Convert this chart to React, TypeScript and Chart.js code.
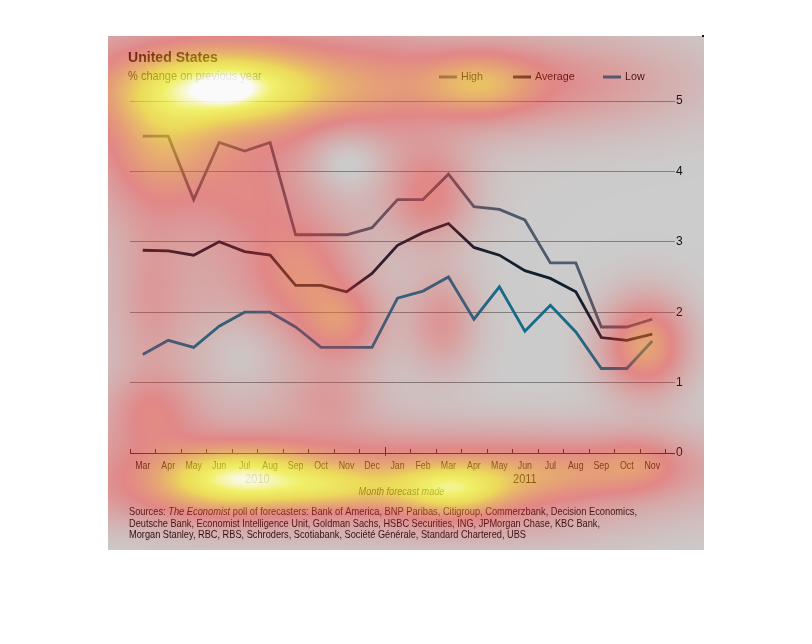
import React, { useEffect, useRef } from "react";
import { Chart, registerables } from "chart.js";

Chart.register(...registerables);

// ---------- data ----------
const months = ["Mar", "Apr", "May", "Jun", "Jul", "Aug", "Sep", "Oct", "Nov", "Dec", "Jan", "Feb", "Mar", "Apr", "May", "Jun", "Jul", "Aug", "Sep", "Oct", "Nov"];
const yearLabels = ["2010", "2011"];
const yearStart = [0, 10];
const yearEnd = [9, 20];
const high = [4.5, 4.5, 3.6, 4.41, 4.29, 4.41, 3.1, 3.1, 3.1, 3.2, 3.6, 3.6, 3.96, 3.5, 3.46, 3.31, 2.7, 2.7, 1.79, 1.79, 1.9];
const average = [2.88, 2.87, 2.81, 3.0, 2.86, 2.81, 2.38, 2.38, 2.29, 2.55, 2.95, 3.13, 3.26, 2.92, 2.81, 2.59, 2.48, 2.29, 1.64, 1.6, 1.69];
const low = [1.4, 1.6, 1.5, 1.8, 2.0, 2.0, 1.79, 1.5, 1.5, 1.5, 2.2, 2.3, 2.5, 1.9, 2.36, 1.73, 2.1, 1.72, 1.2, 1.2, 1.59];
const yMin = 0;
const yMax = 5;
const seriesNames = ["High", "Average", "Low"];
const title = "United States";
const subtitle = "% change on previous year";
const axisTitle = "Month forecast made";
const sourceLines = [
  ["Sources: ", "The Economist", " poll of forecasters: Bank of America, BNP Paribas, Citigroup, Commerzbank, Decision Economics,"],
  ["Deutsche Bank, Economist Intelligence Unit, Goldman Sachs, HSBC Securities, ING, JPMorgan Chase, KBC Bank,"],
  ["Morgan Stanley, RBC, RBS, Schroders, Scotiabank, Société Générale, Standard Chartered, UBS"],
];

// ---------- styles ----------
const W = 812;
const H = 644;
const FONT = "'Liberation Sans', Arial, sans-serif";
const colHigh = "#5f7286";
const colAvg = "#16283a";
const colLow = "#1a86ad";
const textCol = "#121212";

// heat blobs: x, y, sx, sy, weight
const blobs: number[][] = [
  [228, 86, 80, 27, 0.6],
  [228, 88, 18, 12, 0.1],
  [230, 92, 130, 62, 0.33],
  [476, 84, 42, 24, 0.36],
  [550, 82, 100, 34, 0.28],
  [380, 85, 40, 40, 0.12],
  [160, 150, 40, 45, 0.3],
  [230, 280, 100, 120, 0.18],
  [250, 200, 30, 30, 0.12],
  [300, 270, 35, 40, 0.28],
  [342, 322, 28, 28, 0.32],
  [345, 158, 28, 24, -0.2],
  [240, 350, 30, 30, -0.12],
  [150, 300, 22, 55, 0.12],
  [430, 195, 30, 34, 0.32],
  [442, 322, 24, 34, 0.25],
  [645, 345, 30, 34, 0.52],
  [150, 412, 32, 26, 0.25],
  [330, 398, 32, 22, 0.15],
  [235, 478, 55, 21, 0.55],
  [450, 490, 44, 19, 0.55],
  [335, 488, 45, 16, 0.3],
  [390, 470, 250, 30, 0.38],
  [560, 475, 60, 22, 0.2],
  [640, 462, 30, 20, 0.18],
  [200, 505, 90, 20, 0.15],
  [480, 525, 120, 20, 0.1],
];
const stops: number[][] = [
  [0, 255, 0, 0, 0],
  [0.15, 255, 30, 30, 0.18],
  [0.35, 255, 40, 40, 0.42],
  [0.55, 255, 140, 30, 0.52],
  [0.72, 255, 225, 20, 0.62],
  [0.88, 255, 255, 60, 0.7],
  [1.0, 255, 255, 255, 0.9],
];

function ramp(h: number): number[] {
  if (h <= 0) return [0, 0, 0, 0];
  for (let i = 1; i < stops.length; i++) {
    if (h <= stops[i][0]) {
      const a = stops[i - 1], b = stops[i];
      const t = (h - a[0]) / (b[0] - a[0]);
      return [a[1] + (b[1] - a[1]) * t, a[2] + (b[2] - a[2]) * t, a[3] + (b[3] - a[3]) * t, a[4] + (b[4] - a[4]) * t];
    }
  }
  const l = stops[stops.length - 1];
  return [l[1], l[2], l[3], l[4]];
}

function drawText(ctx: CanvasRenderingContext2D, text: string, x: number, y: number, font: string, color: string, sx = 1, align = "left") {
  ctx.save();
  ctx.font = font;
  ctx.fillStyle = color;
  ctx.textBaseline = "middle";
  ctx.textAlign = "left";
  const w = ctx.measureText(text).width * sx;
  const x0 = align === "center" ? x - w / 2 : align === "right" ? x - w : x;
  ctx.translate(x0, y);
  ctx.scale(sx, 1);
  ctx.fillText(text, 0, 0);
  ctx.restore();
}

const overlayPlugin = {
  id: "overlay",
  beforeDraw(chart: any) {
    const ctx = chart.ctx as CanvasRenderingContext2D;
    ctx.save();
    ctx.fillStyle = "#ffffff";
    ctx.fillRect(0, 0, W, H);
    ctx.restore();
  },
  afterDraw(chart: any) {
    const ctx = chart.ctx as CanvasRenderingContext2D;
    const xs = chart.scales.x;
    const ys = chart.scales.y;
    const area = chart.chartArea;

    // title
    drawText(ctx, title, 128, 58, `bold 14.5px ${FONT}`, "#0a0a0a", 0.97);
    drawText(ctx, subtitle, 128, 77, `12px ${FONT}`, textCol, 0.92);

    // legend
    const legX = [439, 513, 603];
    const legCols = [colHigh, colAvg, colLow];
    seriesNames.forEach((n, i) => {
      ctx.save();
      ctx.strokeStyle = legCols[i];
      ctx.lineWidth = 3;
      ctx.beginPath();
      ctx.moveTo(legX[i], 77);
      ctx.lineTo(legX[i] + 18, 77);
      ctx.stroke();
      ctx.restore();
      drawText(ctx, n, legX[i] + 22, 77, `11.5px ${FONT}`, textCol, 0.93);
    });

    // x tick marks
    const base = ys.getPixelForValue(0);
    const step = xs.getPixelForValue(1) - xs.getPixelForValue(0);
    const x0 = xs.getPixelForValue(0) - step / 2;
    ctx.save();
    ctx.strokeStyle = "#333";
    ctx.lineWidth = 1;
    for (let k = 0; k <= months.length; k++) {
      const bx = Math.round(x0 + k * step) + 0.5;
      ctx.beginPath();
      if (k === yearStart[1]) {
        ctx.moveTo(bx, base - 6);
        ctx.lineTo(bx, base + 3);
      } else {
        ctx.moveTo(bx, base - 4);
        ctx.lineTo(bx, base);
      }
      ctx.stroke();
    }
    ctx.restore();

    // month labels
    months.forEach((m, i) => {
      drawText(ctx, m, xs.getPixelForValue(i), 466, `11px ${FONT}`, textCol, 0.8, "center");
    });
    yearLabels.forEach((y, i) => {
      const cx = (xs.getPixelForValue(yearStart[i]) + xs.getPixelForValue(yearEnd[i])) / 2;
      drawText(ctx, y, cx, 480, `12px ${FONT}`, textCol, 0.92, "center");
    });
    drawText(ctx, axisTitle, (area.left + area.right) / 2 + 4, 492, `italic 11px ${FONT}`, textCol, 0.83, "center");

    // sources
    const targets = [508, 471, 397];
    sourceLines.forEach((segs, li) => {
      const y = 512 + li * 11.7;
      ctx.save();
      let total = 0;
      const fonts = segs.map((s, si) => (li === 0 && si === 1 ? `italic 11px ${FONT}` : `11px ${FONT}`));
      segs.forEach((s, si) => {
        ctx.font = fonts[si];
        total += ctx.measureText(s).width;
      });
      const sx = targets[li] / total;
      let x = 129;
      segs.forEach((s, si) => {
        ctx.font = fonts[si];
        const w = ctx.measureText(s).width * sx;
        drawText(ctx, s, x, y, fonts[si], textCol, sx);
        x += w;
      });
      ctx.restore();
    });

    // heat overlay
    const rx0 = 108, ry0 = 36, rw = 596, rh = 514;
    const img = ctx.getImageData(rx0, ry0, rw, rh);
    const d = img.data;
    for (let py = 0; py < rh; py++) {
      const yy = py + ry0;
      for (let px = 0; px < rw; px++) {
        const xx = px + rx0;
        let h = 0;
        for (let b = 0; b < blobs.length; b++) {
          const bl = blobs[b];
          const dx = (xx - bl[0]) / bl[2];
          const dy = (yy - bl[1]) / bl[3];
          const q = dx * dx + dy * dy;
          if (q < 18) h += bl[4] * Math.exp(-q / 2);
        }
        if (h > 1) h = 1;
        const c = ramp(h);
        const i = (py * rw + px) * 4;
        const a = c[3];
        d[i] = d[i] * 0.8 * (1 - a) + c[0] * a;
        d[i + 1] = d[i + 1] * 0.8 * (1 - a) + c[1] * a;
        d[i + 2] = d[i + 2] * 0.8 * (1 - a) + c[2] * a;
        d[i + 3] = 255;
      }
    }
    ctx.putImageData(img, rx0, ry0);

    // small corner mark
    ctx.save();
    ctx.fillStyle = "#111";
    ctx.fillRect(702, 35, 2, 2);
    ctx.restore();
  },
};

export default function App() {
  const ref = useRef<HTMLCanvasElement | null>(null);
  useEffect(() => {
    if (!ref.current) return;
    const chart = new Chart(ref.current, {
      type: "line",
      data: {
        labels: months,
        datasets: [
          { label: seriesNames[0], data: high, borderColor: colHigh, borderWidth: 2.8, pointRadius: 0, tension: 0 },
          { label: seriesNames[1], data: average, borderColor: colAvg, borderWidth: 2.8, pointRadius: 0, tension: 0 },
          { label: seriesNames[2], data: low, borderColor: colLow, borderWidth: 2.8, pointRadius: 0, tension: 0 },
        ],
      },
      options: {
        animation: false,
        responsive: false,
        devicePixelRatio: 1,
        layout: { padding: { left: 130, top: 101, right: 0, bottom: 0 } },
        plugins: { legend: { display: false }, tooltip: { enabled: false }, title: { display: false } },
        scales: {
          x: {
            type: "category",
            offset: true,
            ticks: { display: false },
            grid: { display: false },
            border: { display: false },
            afterFit: (s: any) => { s.height = H - 453; },
          },
          y: {
            position: "right",
            min: yMin,
            max: yMax,
            ticks: { stepSize: 1, padding: 1, color: textCol, font: { family: FONT, size: 12 } },
            grid: {
              tickLength: 10,
              lineWidth: 1,
              color: (c: any) => (c.tick && c.tick.value === 0 ? "#333333" : "#a0a0a0"),
            },
            border: { display: false },
            afterFit: (s: any) => { s.width = W - 665; },
          },
        },
      },
      plugins: [overlayPlugin],
    } as any);
    return () => chart.destroy();
  }, []);
  return (
    <div style={{ position: "fixed", left: 0, top: 0, width: W, height: H, background: "#fff" }}>
      <canvas ref={ref} width={W} height={H} style={{ width: W, height: H, display: "block" }} />
    </div>
  );
}
